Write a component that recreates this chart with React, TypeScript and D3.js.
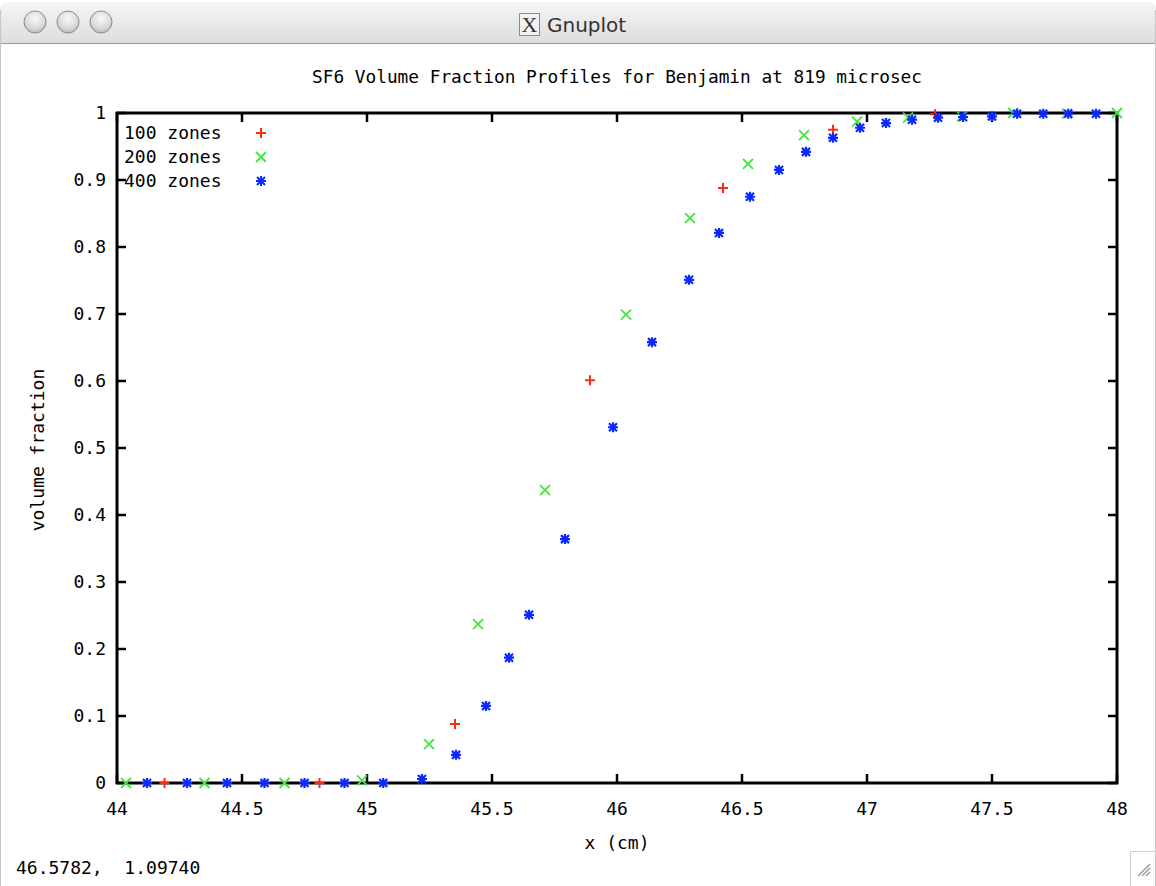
import React from 'react';
import * as d3 from 'd3';

const xTicks = [44, 44.5, 45, 45.5, 46, 46.5, 47, 47.5, 48];
const xTickLabels = ['44', '44.5', '45', '45.5', '46', '46.5', '47', '47.5', '48'];
const yTicks = [0, 0.1, 0.2, 0.3, 0.4, 0.5, 0.6, 0.7, 0.8, 0.9, 1];
const yTickLabels = ['0', '0.1', '0.2', '0.3', '0.4', '0.5', '0.6', '0.7', '0.8', '0.9', '1'];

const zones100X = [44.19, 44.81, 45.352, 45.892, 46.424, 46.864, 47.272];
const zones100Y = [0, 0, 0.088, 0.601, 0.888, 0.975, 0.998];

const zones200X = [44.036, 44.35, 44.67, 44.98, 45.248, 45.444, 45.712, 46.036, 46.292, 46.524, 46.748, 46.96, 47.164, 47.38, 47.585, 47.8, 48.0];
const zones200Y = [0, 0, 0, 0.004, 0.058, 0.237, 0.437, 0.699, 0.843, 0.924, 0.967, 0.987, 0.993, 0.995, 1, 0.999, 1];

const zones400X = [44.12, 44.28, 44.44, 44.59, 44.75, 44.91, 45.065, 45.22, 45.356, 45.476, 45.568, 45.648, 45.792, 45.984, 46.14, 46.288, 46.408, 46.532, 46.648, 46.756, 46.864, 46.972, 47.076, 47.18, 47.284, 47.384, 47.5, 47.6, 47.705, 47.805, 47.916];
const zones400Y = [0, 0, 0, 0, 0, 0, 0, 0.006, 0.042, 0.115, 0.187, 0.251, 0.364, 0.531, 0.658, 0.751, 0.821, 0.875, 0.915, 0.942, 0.963, 0.978, 0.985, 0.99, 0.993, 0.994, 0.995, 0.999, 0.999, 0.999, 0.999];

const seriesNames = ['100 zones', '200 zones', '400 zones'];

const W = 1156;
const H = 886;
const PL = 117, PR = 1117, PT = 113, PB = 783;
const FONT = '"DejaVu Sans Mono", monospace';
const FS = 18;

const RED = '#ff2a10';
const GREEN = '#3ee83e';
const BLUE = '#0a28ff';

function plusPath(x: number, y: number, s = 5) {
  return `M${x - s},${y}H${x + s}M${x},${y - s}V${y + s}`;
}
function crossPath(x: number, y: number, s = 5) {
  return `M${x - s},${y - s}L${x + s},${y + s}M${x - s},${y + s}L${x + s},${y - s}`;
}
function starPath(x: number, y: number, s = 5) {
  return plusPath(x, y, s) + crossPath(x, y, s - 1);
}

export default function App() {
  const x = d3.scaleLinear().domain([44, 48]).range([PL, PR]);
  const y = d3.scaleLinear().domain([0, 1]).range([PB, PT]);

  const red = zones100X.map((v, i) => [x(v), y(zones100Y[i])]);
  const green = zones200X.map((v, i) => [x(v), y(zones200Y[i])]);
  const blue = zones400X.map((v, i) => [x(v), y(zones400Y[i])]);

  const legendY = [133, 157, 181];
  const stripes = d3.range(0, 44, 2);

  return (
    <div style={{ position: 'fixed', left: 0, top: 0, width: W, height: H, background: '#fff' }}>
      <svg width={W} height={H} style={{ display: 'block' }}>
        <defs>
          <linearGradient id="tb" x1="0" y1="0" x2="0" y2="1">
            <stop offset="0" stopColor="#f4f4f4" />
            <stop offset="1" stopColor="#d6d6d6" />
          </linearGradient>
          <radialGradient id="btn" cx="0.5" cy="0.35" r="0.65">
            <stop offset="0" stopColor="#fafafa" />
            <stop offset="0.7" stopColor="#d8d8d8" />
            <stop offset="1" stopColor="#b8b8b8" />
          </radialGradient>
        </defs>
        <rect x={0} y={0} width={W} height={H} fill="#fff" />
        {/* title bar */}
        <path d={`M0,44V10Q0,2 8,2H${W - 8}Q${W},2 ${W},10V44Z`} fill="url(#tb)" />
        {stripes.map((s) => (
          <line key={s} x1={2} x2={W - 2} y1={4 + s} y2={4 + s} stroke="#ffffff" strokeOpacity={0.35} />
        ))}
        <line x1={0} x2={W} y1={43.5} y2={43.5} stroke="#9a9a9a" />
        <line x1={0.5} x2={0.5} y1={10} y2={H} stroke="#c8c8c8" />
        <line x1={W - 0.5} x2={W - 0.5} y1={10} y2={H} stroke="#c8c8c8" />
        {[35, 68, 101].map((cx) => (
          <circle key={cx} cx={cx} cy={22} r={11} fill="url(#btn)" stroke="#8c8c8c" strokeWidth={1} />
        ))}
        <rect x={519.5} y={13.5} width={20} height={22} fill="#f2f2f2" stroke="#8a8a8a" />
        <text x={529.5} y={32} textAnchor="middle" fontFamily='"Liberation Serif", serif' fontSize={22} fill="#333">X</text>
        <text x={547} y={32} fontFamily='"DejaVu Sans", sans-serif' fontSize={20} fill="#333">Gnuplot</text>

        {/* chart title */}
        <text x={617} y={83} textAnchor="middle" fontFamily={FONT} fontSize={FS} textLength={610} lengthAdjust="spacingAndGlyphs" fill="#000">
          SF6 Volume Fraction Profiles for Benjamin at 819 microsec
        </text>

        {/* ticks */}
        {xTicks.map((t) => (
          <g key={'xt' + t}>
            <line x1={x(t)} x2={x(t)} y1={PB} y2={PB - 9} stroke="#000" strokeWidth={2.5} />
            <line x1={x(t)} x2={x(t)} y1={PT} y2={PT + 9} stroke="#000" strokeWidth={2.5} />
          </g>
        ))}
        {yTicks.map((t) => (
          <g key={'yt' + t}>
            <line x1={PL} x2={PL + 9} y1={y(t)} y2={y(t)} stroke="#000" strokeWidth={2.5} />
            <line x1={PR} x2={PR - 9} y1={y(t)} y2={y(t)} stroke="#000" strokeWidth={2.5} />
          </g>
        ))}
        {xTicks.map((t, i) => (
          <text key={'xl' + t} x={x(t)} y={815} textAnchor="middle" fontFamily={FONT} fontSize={FS} fill="#000">
            {xTickLabels[i]}
          </text>
        ))}
        {yTicks.map((t, i) => (
          <text key={'yl' + t} x={106} y={y(t) + 6} textAnchor="end" fontFamily={FONT} fontSize={FS} fill="#000">
            {yTickLabels[i]}
          </text>
        ))}

        {/* frame */}
        <rect x={PL} y={PT} width={PR - PL} height={PB - PT} fill="none" stroke="#000" strokeWidth={3} />

        {/* axis labels */}
        <text x={617} y={849} textAnchor="middle" fontFamily={FONT} fontSize={FS} fill="#000">x (cm)</text>
        <text transform={`translate(44,450) rotate(-90)`} textAnchor="middle" fontFamily={FONT} fontSize={FS} fill="#000">volume fraction</text>

        {/* legend */}
        {seriesNames.map((n, i) => (
          <text key={n} x={124} y={legendY[i] + 6} fontFamily={FONT} fontSize={FS} fill="#000">{n}</text>
        ))}
        <path d={plusPath(261, legendY[0])} stroke={RED} strokeWidth={2} fill="none" />
        <path d={crossPath(261, legendY[1])} stroke={GREEN} strokeWidth={1.8} fill="none" />
        <path d={starPath(261, legendY[2])} stroke={BLUE} strokeWidth={2} fill="none" />

        {/* data */}
        {red.map(([px, py], i) => (
          <path key={'r' + i} d={plusPath(px, py)} stroke={RED} strokeWidth={2} fill="none" />
        ))}
        {green.map(([px, py], i) => (
          <path key={'g' + i} d={crossPath(px, py)} stroke={GREEN} strokeWidth={1.8} fill="none" />
        ))}
        {blue.map(([px, py], i) => (
          <path key={'b' + i} d={starPath(px, py)} stroke={BLUE} strokeWidth={2.2} fill="none" />
        ))}

        {/* status line */}
        <text x={16} y={874} fontFamily={FONT} fontSize={FS} fill="#000" style={{ whiteSpace: 'pre' }} xmlSpace="preserve">{'46.5782,  1.09740'}</text>

        {/* resize grip */}
        <g stroke="#9a9a9a" strokeWidth={1.5}>
          <line x1={1138} y1={876} x2={1150} y2={864} />
          <line x1={1142} y1={876} x2={1150} y2={868} />
          <line x1={1146} y1={876} x2={1150} y2={872} />
        </g>
        <path d="M1130.5,886V851.5H1156" stroke="#d0d0d0" fill="none" />
      </svg>
    </div>
  );
}
